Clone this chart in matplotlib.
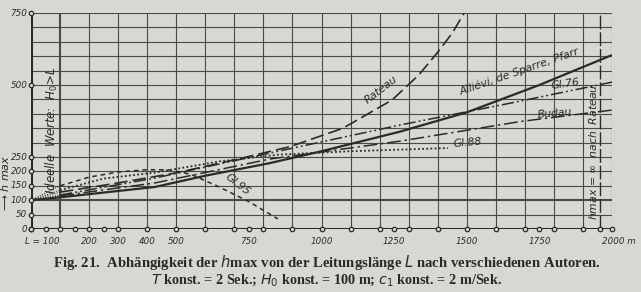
import matplotlib
matplotlib.use("Agg")
import matplotlib.pyplot as plt

# ---- data ----
L_ideal = [0, 100]
rateau_L = [100, 300, 500, 700, 892, 1074, 1243, 1335, 1397, 1450, 1494]
rateau_h = [128, 160, 195, 240, 286, 350, 448, 535, 610, 680, 755]
allievi_L = [0, 100, 427, 600, 823, 1000, 1270, 1500, 1750, 2000]
allievi_h = [100, 110, 146, 185, 229, 270, 338, 405, 500, 604]
gl76_L = [100, 427, 823, 1270, 1650, 2000]
gl76_h = [118, 177, 264, 361, 437, 510]
budau_L = [100, 427, 823, 1270, 1683, 2000]
budau_h = [115, 160, 243, 305, 373, 413]
gl88_L = [100, 250, 427, 650, 850, 1100, 1435]
gl88_h = [135, 175, 196, 235, 258, 270, 281]
gl95_L = [100, 200, 300, 400, 480, 550, 650, 750, 850]
gl95_h = [150, 180, 198, 206, 205, 190, 145, 95, 35]
asymptote_L = 1960

xtick_marks = [50, 100, 150, 200, 250, 300, 400, 500, 600, 700, 750, 800, 900,
               1000, 1100, 1200, 1250, 1300, 1400, 1500, 1600, 1700, 1750, 1800,
               1900, 1960, 2000]
xtick_labels = {200: "200", 300: "300", 400: "400", 500: "500", 750: "750",
                1000: "1000", 1250: "1250", 1500: "1500", 1750: "1750"}
ytick_vals = [0, 50, 100, 150, 200, 250, 500, 750]

bg = "#d8d8d2"
ink = "#2a2a2a"
grid_c = "#4a4a4a"
narrow = ['Liberation Sans Narrow', 'DejaVu Sans']

fig = plt.figure(figsize=(6.41, 2.92), dpi=100, facecolor=bg)
ax = fig.add_axes([31/641, 1-229/292, (612-31)/641, (229-13)/292])
ax.set_facecolor(bg)
ax.set_xlim(0, 2000)
ax.set_ylim(0, 750)
for s in ax.spines.values():
    s.set_visible(False)
ax.set_xticks([]); ax.set_yticks([])

# grid
for x in range(100, 2001, 100):
    ax.axvline(x, color=grid_c, lw=1.5 if x == 100 else 0.8, zorder=1)
for y in range(50, 751, 50):
    ax.axhline(y, color=grid_c, lw=1.5 if y == 100 else 0.8, zorder=1)
ax.axvline(0, color=ink, lw=2.2, zorder=3)
ax.axhline(0, color=ink, lw=2.2, zorder=3)
ax.axvline(asymptote_L, color=ink, lw=1.0, ls=(0, (10, 2)), zorder=2)

# tick circles
ax.plot(xtick_marks + [0], [0]*(len(xtick_marks)+1), 'o', ms=3.2, mfc=bg,
        mec=ink, mew=0.9, clip_on=False, zorder=5)
ax.plot([0]*len(ytick_vals), ytick_vals, 'o', ms=3.2, mfc=bg, mec=ink,
        mew=0.9, clip_on=False, zorder=5)

# ideal dotted section 0..100
for h100 in [rateau_h[0], gl76_h[0], budau_h[0], gl88_h[0], gl95_h[0]]:
    ax.plot(L_ideal, [100, h100], color=ink, lw=0.7, ls=(0, (1, 1.5)), zorder=3)

kw = dict(color=ink, zorder=4, solid_capstyle='butt', dash_capstyle='butt')
ax.plot(rateau_L, rateau_h, lw=1.2, ls=(0, (8, 3)), clip_on=True, **kw)
ax.plot(allievi_L, allievi_h, lw=1.6, **kw)
ax.plot(gl76_L, gl76_h, lw=1.1, ls=(0, (8, 2, 1.2, 2, 1.2, 2)), **kw)
ax.plot(budau_L, budau_h, lw=1.1, ls=(0, (9, 2.5, 1.5, 2.5)), **kw)
ax.plot(gl88_L, gl88_h, lw=1.3, ls=(0, (1, 1.3)), **kw)
ax.plot(gl95_L, gl95_h, lw=1.1, ls=(0, (3, 2.5)), **kw)

lab = dict(color=ink, style='italic', family=narrow,
           fontsize=7.8, ha='center', va='center', zorder=6)
ax.text(1205, 485, "Rateau", rotation=38, **lab)
ax.text(1680, 548, "Alliévi, de Sparre, Pfarr", rotation=19, **lab)
ax.text(1838, 505, "Gl.76", rotation=8, **lab)
ax.text(1804, 400, "Budau", rotation=5, **lab)
ax.text(1504, 300, "Gl.88", rotation=5, **lab)
ax.text(713, 153, "Gl.95", rotation=-38, **lab)
ax.text(72, 345, "Ideelle  Werte:  $H_0\\!>\\!L$", rotation=90,
        **{**lab, 'fontsize': 8.6})
ax.text(1935, 268, "$h$max = ∞  nach  Rateau", rotation=90, **lab)

tl = dict(color=ink, style='italic', family=narrow, fontsize=6.3,
          va='center', zorder=6)
for v, t in xtick_labels.items():
    ax.text(v, -42, t, ha='center', **tl)
ax.text(100, -42, "L = 100", ha='right', **tl)
ax.text(2025, -42, "2000 m", ha='center', **tl)
for v in ytick_vals:
    ax.text(-12, v, str(v), ha='right', **tl)
fig.text(5/641, 1-183/292, "⟶ $h$ max", rotation=90, ha='center', color=ink,
         style='italic', family=narrow, fontsize=8.0, va='center')

cap = dict(color=ink, family=['Liberation Serif', 'DejaVu Serif'],
           fontweight='bold', ha='center', va='center')
fig.text(327/641, 1-262/292,
         "Fig. 21.  Abhängigkeit der $h$max von der Leitungslänge $L$ nach verschiedenen Autoren.",
         fontsize=10.6, **cap)
fig.text(327/641, 1-280/292,
         "$T$ konst. = 2 Sek.; $H_0$ konst. = 100 m; $c_1$ konst. = 2 m/Sek.",
         fontsize=10.3, **cap)

fig.savefig("out.png", dpi=100, facecolor=bg)
